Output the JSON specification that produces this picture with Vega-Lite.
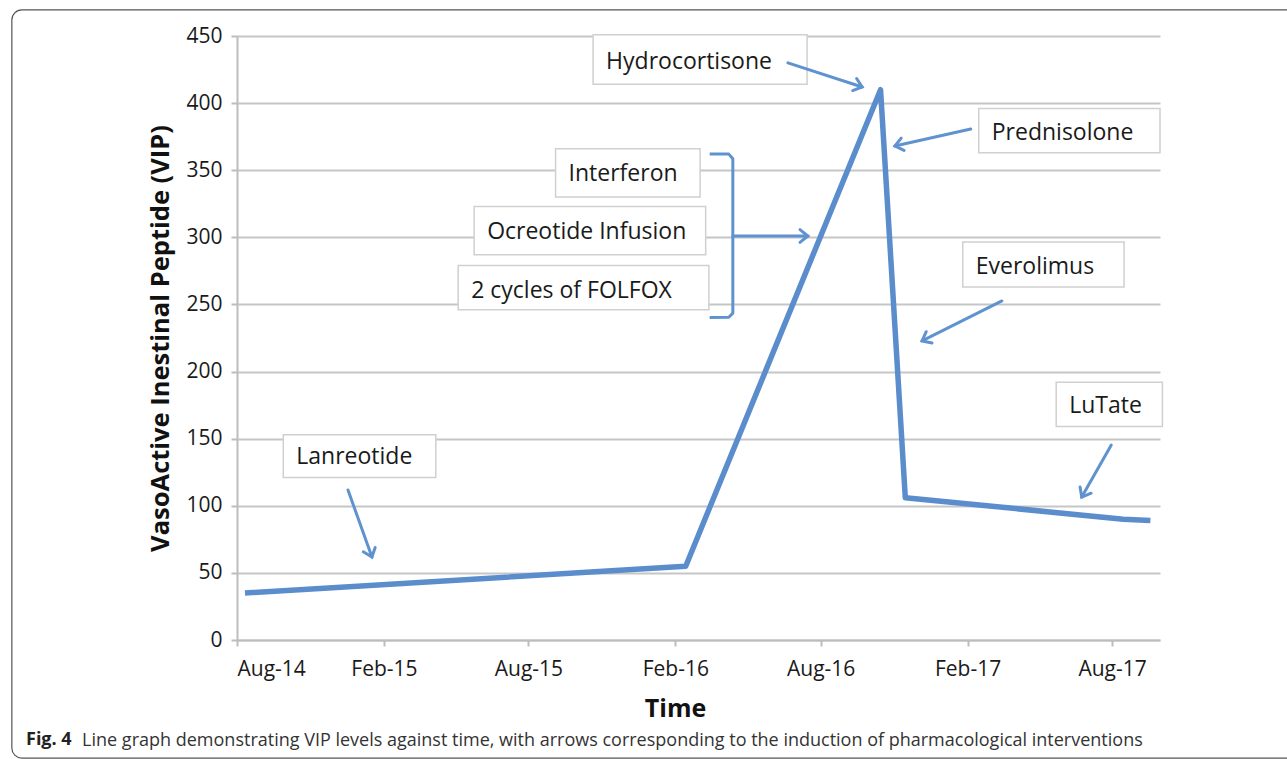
{
  "$schema": "https://vega.github.io/schema/vega-lite/v6.json",
  "width": 923,
  "height": 604,
  "autosize": {"type": "none"},
  "padding": {"left": 237, "top": 36, "right": 127, "bottom": 119},
  "background": "white",
  "config": {
    "view": {"stroke": null},
    "font": "Open Sans",
    "axis": {
      "domainColor": "#bdbdbd", "domainWidth": 2,
      "tickColor": "#bdbdbd", "tickWidth": 2, "tickSize": 6,
      "gridColor": "#c6c6c6", "gridWidth": 2,
      "labelFont": "Open Sans", "labelFontSize": 21, "labelColor": "#1a1a1a",
      "titleFont": "Open Sans", "titleFontWeight": "bold", "titleColor": "#111111"
    }
  },
  "title": {
    "text": "Fig. 4",
    "subtitle": "\u200b\u00a0\u00a0\u00a0\u00a0\u00a0\u00a0\u00a0\u00a0\u00a0\u00a0\u00a0\u00a0Line graph demonstrating VIP levels against time, with arrows corresponding to the induction of pharmacological interventions",
    "orient": "bottom", "anchor": "start", "frame": "group",
    "dx": -211, "offset": -28,
    "font": "Open Sans", "fontSize": 18, "fontWeight": "bold", "color": "#222222",
    "subtitleFont": "Open Sans", "subtitleFontSize": 18, "subtitleFontWeight": "normal", "subtitleColor": "#333333",
    "subtitlePadding": -17
  },
  "datasets": {
    "vip": [
      {"date": "2014-08-11", "vip": 35},
      {"date": "2016-02-14", "vip": 55},
      {"date": "2016-10-15", "vip": 410},
      {"date": "2016-11-15", "vip": 106},
      {"date": "2017-08-15", "vip": 90},
      {"date": "2017-09-18", "vip": 89}
    ],
    "boxes": [
      {"label": "Lanreotide", "x_start": "2014-09-28", "x_end": "2015-04-07", "y_top": 153, "y_bottom": 121, "text_vip": 136},
      {"label": "Interferon", "x_start": "2015-09-04", "x_end": "2016-03-03", "y_top": 366, "y_bottom": 330, "text_vip": 347},
      {"label": "Ocreotide Infusion", "x_start": "2015-05-25", "x_end": "2016-03-10", "y_top": 323, "y_bottom": 287, "text_vip": 304},
      {"label": "2 cycles of FOLFOX", "x_start": "2015-05-05", "x_end": "2016-03-14", "y_top": 279, "y_bottom": 246, "text_vip": 260},
      {"label": "Hydrocortisone", "x_start": "2015-10-21", "x_end": "2016-07-15", "y_top": 451, "y_bottom": 414, "text_vip": 430.5},
      {"label": "Prednisolone", "x_start": "2017-02-15", "x_end": "2017-09-30", "y_top": 396, "y_bottom": 363, "text_vip": 378},
      {"label": "Everolimus", "x_start": "2017-01-26", "x_end": "2017-08-16", "y_top": 296.5, "y_bottom": 263, "text_vip": 278},
      {"label": "LuTate", "x_start": "2017-05-23", "x_end": "2017-10-03", "y_top": 192, "y_bottom": 159, "text_vip": 174.5}
    ],
    "arrows": [
      {"name": "Lanreotide", "from_date": "2014-12-18", "from_vip": 111.8, "to_date": "2015-01-17", "to_vip": 61.8, "angle": 70},
      {"name": "Group", "from_date": "2016-04-13", "from_vip": 301, "to_date": "2016-07-16", "to_vip": 301, "angle": 0},
      {"name": "Hydrocortisone", "from_date": "2016-06-21", "from_vip": 430, "to_date": "2016-09-22", "to_vip": 412, "angle": 18},
      {"name": "Prednisolone", "from_date": "2017-02-05", "from_vip": 380.7, "to_date": "2016-11-02", "to_vip": 368, "angle": 167},
      {"name": "Everolimus", "from_date": "2017-03-16", "from_vip": 252.6, "to_date": "2016-12-06", "to_vip": 222.8, "angle": 153},
      {"name": "LuTate", "from_date": "2017-07-31", "from_vip": 145.3, "to_date": "2017-06-24", "to_vip": 106.5, "angle": 119}
    ],
    "bracket": [
      {"order": 1, "date": "2016-03-15", "vip": 362.1},
      {"order": 2, "date": "2016-04-08", "vip": 362},
      {"order": 3, "date": "2016-04-13", "vip": 358.5},
      {"order": 4, "date": "2016-04-13", "vip": 243.5},
      {"order": 5, "date": "2016-04-08", "vip": 240.5},
      {"order": 6, "date": "2016-03-15", "vip": 240.2}
    ],
    "frame": [
      {"x_start": "2013-10-23", "x_end": "2018-03-24", "y_top": 469.4, "y_bottom": -88}
    ]
  },
  "layer": [
    {
      "data": {"name": "frame"},
      "mark": {"type": "rect", "fill": null, "stroke": "#555555", "strokeWidth": 1.2, "cornerRadius": 10, "clip": false},
      "encoding": {
        "x": {"field": "x_start", "type": "temporal"},
        "x2": {"field": "x_end"},
        "y": {"field": "y_top", "type": "quantitative"},
        "y2": {"field": "y_bottom"}
      }
    },
    {
      "data": {"name": "vip"},
      "mark": {"type": "line", "color": "#5b8dcd", "strokeWidth": 5.5, "strokeJoin": "round"},
      "encoding": {
        "x": {
          "field": "date", "type": "temporal",
          "scale": {"type": "utc", "domain": [{"year": 2014, "month": 8, "date": 1, "utc": true}, {"year": 2017, "month": 9, "date": 30, "utc": true}]},
          "axis": {
            "title": "Time", "titleFontSize": 25, "titlePadding": 17, "titleX": 438,
            "format": "%b-%y", "labelPadding": 12, "grid": false,
            "values": [
              {"year": 2014, "month": 8, "date": 1, "utc": true},
              {"year": 2015, "month": 2, "date": 1, "utc": true},
              {"year": 2015, "month": 8, "date": 1, "utc": true},
              {"year": 2016, "month": 2, "date": 1, "utc": true},
              {"year": 2016, "month": 8, "date": 1, "utc": true},
              {"year": 2017, "month": 2, "date": 1, "utc": true},
              {"year": 2017, "month": 8, "date": 1, "utc": true}
            ]
          }
        },
        "y": {
          "field": "vip", "type": "quantitative",
          "scale": {"domain": [0, 450], "nice": false},
          "axis": {
            "title": "VasoActive Inestinal Peptide (VIP)", "titleFontSize": 25.5, "titlePadding": 12,
            "values": [0, 50, 100, 150, 200, 250, 300, 350, 400, 450],
            "labelPadding": 9, "grid": true
          }
        }
      }
    },
    {
      "data": {"name": "boxes"},
      "mark": {"type": "rect", "fill": "white", "stroke": "#d0d0d0", "strokeWidth": 1.5, "clip": false},
      "encoding": {
        "x": {"field": "x_start", "type": "temporal"},
        "x2": {"field": "x_end"},
        "y": {"field": "y_top", "type": "quantitative"},
        "y2": {"field": "y_bottom"}
      }
    },
    {
      "data": {"name": "boxes"},
      "mark": {"type": "text", "align": "left", "baseline": "middle", "dx": 13, "font": "Open Sans", "fontSize": 23, "color": "#1a1a1a", "clip": false},
      "encoding": {
        "x": {"field": "x_start", "type": "temporal"},
        "y": {"field": "text_vip", "type": "quantitative"},
        "text": {"field": "label"}
      }
    },
    {
      "data": {"name": "bracket"},
      "mark": {"type": "line", "color": "#5f93cf", "strokeWidth": 3, "strokeJoin": "round"},
      "encoding": {
        "x": {"field": "date", "type": "temporal"},
        "y": {"field": "vip", "type": "quantitative"},
        "order": {"field": "order", "type": "quantitative"}
      }
    },
    {
      "data": {"name": "arrows"},
      "mark": {"type": "rule", "color": "#5f93cf", "strokeWidth": 3, "strokeCap": "round"},
      "encoding": {
        "x": {"field": "from_date", "type": "temporal"},
        "y": {"field": "from_vip", "type": "quantitative"},
        "x2": {"field": "to_date"},
        "y2": {"field": "to_vip"}
      }
    },
    {
      "data": {"name": "arrows"},
      "mark": {"type": "point", "shape": "M-1,-0.8L0,0L-1,0.8", "filled": false, "size": 250, "strokeWidth": 3, "color": "#5f93cf", "opacity": 1, "strokeCap": "round"},
      "encoding": {
        "x": {"field": "to_date", "type": "temporal"},
        "y": {"field": "to_vip", "type": "quantitative"},
        "angle": {"field": "angle", "type": "quantitative", "scale": null}
      }
    }
  ]
}
